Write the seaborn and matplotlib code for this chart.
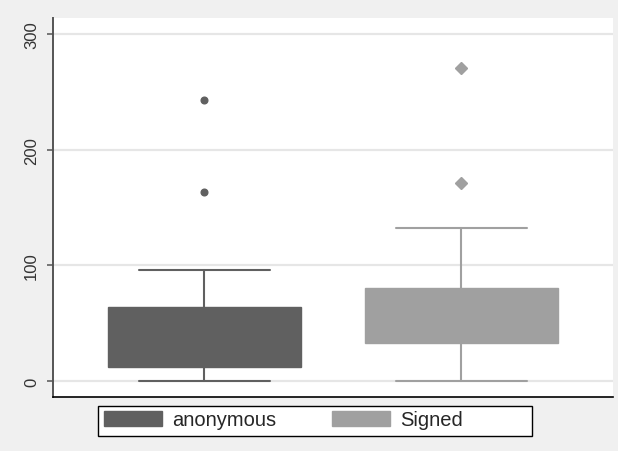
import matplotlib
matplotlib.use("Agg")
import matplotlib.pyplot as plt
import seaborn as sns
from matplotlib.patches import Rectangle, Patch

# ---- data ----
groups = ["anonymous", "Signed"]
q1 = [12, 33]
med = [29, 57]
q3 = [64, 80.5]
whislo = [0, 0]
whishi = [96, 132]
outliers = [[163, 243], [171, 271]]
yticks = [0, 100, 200, 300]

colors = ["#606060", "#a0a0a0"]
markers = ["o", "D"]
msizes = [4.8, 6.2]

sns.set_style("white")
plt.rcParams['font.family'] = ['Liberation Sans', 'DejaVu Sans']

W, H = 618, 452
fig = plt.figure(figsize=(W / 100, H / 100), dpi=100, facecolor="#f0f0f0")
ax = fig.add_axes([53 / W, 1 - 397.7 / H, 560 / W, (397.7 - 18.5) / H])
ax.set_facecolor("white")

for i, g in enumerate(groups):
    st = [dict(label=g, q1=q1[i], med=med[i], q3=q3[i],
               whislo=whislo[i], whishi=whishi[i], fliers=outliers[i])]
    ax.bxp(st, positions=[i], widths=0.751, capwidths=0.51, patch_artist=True,
           showfliers=True, manage_ticks=False,
           boxprops=dict(facecolor=colors[i], edgecolor=colors[i], linewidth=1),
           medianprops=dict(color=colors[i], linewidth=1),
           whiskerprops=dict(color=colors[i], linewidth=1.5),
           capprops=dict(color=colors[i], linewidth=1.5),
           flierprops=dict(marker=markers[i], markerfacecolor=colors[i],
                           markeredgecolor=colors[i], markersize=msizes[i],
                           linestyle="none"))

ax.set_xlim(-0.588, 1.591)
ax.set_ylim(-13.6, 314.3)
ax.set_xticks([])
ax.set_yticks(yticks)
ax.set_yticklabels([str(t) for t in yticks])
ax.set_axisbelow(True)
ax.yaxis.grid(True, color="#e6e6e6", linewidth=1.6)
ax.xaxis.grid(False)

ax.tick_params(axis='y', left=True, length=4.5, width=1.2, color='#606060',
               pad=5.5, labelsize=12, labelcolor='#333333')
for lab in ax.get_yticklabels():
    lab.set_rotation(90)
    lab.set_va('center')
    lab.set_ha('right')

for s in ["top", "right"]:
    ax.spines[s].set_visible(False)
ax.spines["left"].set_color("#555555")
ax.spines["left"].set_linewidth(1.4)
ax.spines["bottom"].set_color("black")
ax.spines["bottom"].set_linewidth(1.2)

# legend frame
rect = Rectangle((98 / W, 1 - 437 / H), 434 / W, 30 / H, transform=fig.transFigure,
                 facecolor="white", edgecolor="black", linewidth=1, zorder=1)
fig.add_artist(rect)

handles = [Patch(facecolor=c, edgecolor=c) for c in colors]
fig.legend(handles, groups, loc="center left", bbox_to_anchor=(104 / W, 1 - 421 / H),
           frameon=False, ncol=2, fontsize=14.5, handlelength=2.9, handleheight=0.8,
           handletextpad=0.5, columnspacing=2.75, borderpad=0, borderaxespad=0)

fig.savefig("out.png", dpi=100, facecolor=fig.get_facecolor())
